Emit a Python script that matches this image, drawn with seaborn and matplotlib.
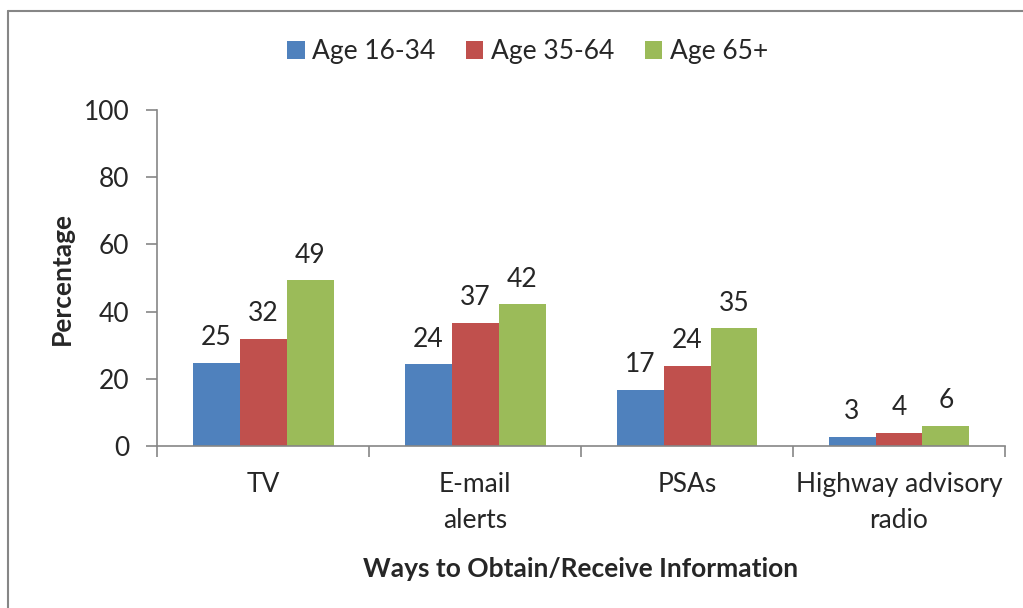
import numpy as np
import pandas as pd
import matplotlib.pyplot as plt
import seaborn as sns
from matplotlib.lines import Line2D

# Values
categories = ['TV', 'E-mail\nalerts', 'PSAs', 'Highway advisory\nradio']
age_groups = ['Age 16-34', 'Age 35-64', 'Age 65+']
age_16_34 = [24.8, 24.4, 16.8, 2.7]
age_35_64 = [31.9, 36.7, 23.9, 3.9]
age_65_plus = [49.3, 42.2, 35.0, 6.1]
colors = ['#4F81BD', '#C0504D', '#9BBB59']

df = pd.DataFrame({
    'Category': categories * 3,
    'Group': np.repeat(age_groups, len(categories)),
    'Percentage': age_16_34 + age_35_64 + age_65_plus,
})

sns.set_style('white')
plt.rcParams['font.family'] = ['Lato', 'DejaVu Sans']
grey = '#868686'
fs = 19

fig = plt.figure(figsize=(10.23, 6.08), dpi=100)
ax = fig.add_axes([0.1535, 0.2664, 0.8289, 0.5526])

sns.barplot(data=df, x='Category', y='Percentage', hue='Group',
            order=categories, hue_order=age_groups, palette=colors,
            width=0.665, saturation=1, linewidth=0, ax=ax)

for c in ax.containers:
    ax.bar_label(c, fmt='%.0f', padding=9, fontsize=fs)

# Axes
ax.set_ylim(0, 100)
ax.set_yticks(range(0, 101, 20))
ax.set_xlim(-0.5, 3.5)
ax.set_xticks(np.arange(-0.5, 4), minor=True)
ax.tick_params(axis='x', which='major', length=0, pad=19, labelsize=fs)
ax.tick_params(axis='x', which='minor', bottom=True, length=8, width=1.2,
               color=grey, direction='out')
ax.tick_params(axis='y', left=True, length=8, width=1.2, color=grey,
               direction='out', pad=12, labelsize=fs)
for lbl in ax.get_xticklabels():
    lbl.set_linespacing(1.55)

for side in ['top', 'right']:
    ax.spines[side].set_visible(False)
for side in ['left', 'bottom']:
    ax.spines[side].set_color(grey)
    ax.spines[side].set_linewidth(1.2)

ax.set_xlabel('Ways to Obtain/Receive Information', fontsize=fs,
              fontweight='bold', labelpad=17)
ax.set_ylabel('Percentage', fontsize=fs, fontweight='bold', labelpad=7)

# Legend on top
handles, labels = ax.get_legend_handles_labels()
ax.legend(handles, labels, loc='center', bbox_to_anchor=(0.516, 0.9145),
          bbox_transform=fig.transFigure, ncol=3, frameon=False, fontsize=fs,
          handlelength=0.65, handleheight=0.65, handletextpad=0.3,
          columnspacing=1.15)

# Chart border (left and top edges visible in the crop)
fig.add_artist(Line2D([8 / 1023, 1], [1 - 11 / 608] * 2,
                      transform=fig.transFigure, color=grey, lw=1.5))
fig.add_artist(Line2D([8 / 1023] * 2, [0, 1 - 11 / 608],
                      transform=fig.transFigure, color=grey, lw=1.5))

fig.savefig('out.png', dpi=100)
